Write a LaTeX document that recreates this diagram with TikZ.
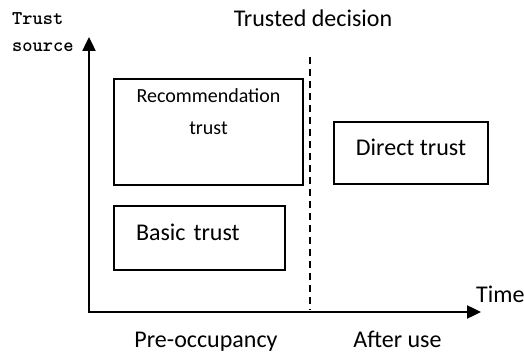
\documentclass[tikz,border=0pt]{standalone}
\usepackage{fontspec}
\setmainfont{Carlito}
\usetikzlibrary{arrows.meta}

\tikzset{
  trustbox/.style = {draw, line width=1.3pt, inner sep=0pt, font=\fontsize{24}{28}\selectfont},
  axis/.style = {line width=2.4pt, {Triangle[length=14pt,width=13pt]}-{Triangle[length=14pt,width=13pt]}},
  lbl/.style = {inner sep=0pt, anchor=base, font=\fontsize{24}{28}\selectfont}
}

\begin{document}
\begin{tikzpicture}[x=1pt, y=-1pt]
\useasboundingbox (0,0) rectangle (524,352);
% axes
\coordinate (ytop) at (89,37);
\coordinate (origin) at (89,312);
\coordinate (xend) at (481,312);
\draw[axis] (ytop) -- (origin) -- (xend);
% decision line
\coordinate (dtop) at (310,57);
\coordinate (dbot) at (310,310);
\draw[line width=1.3pt, dash pattern=on 7pt off 5pt] (dtop) -- (dbot);
% boxes
\node[trustbox, minimum width=189pt, minimum height=106pt, align=center,
      font=\fontsize{20}{32}\selectfont, text depth=41pt] (recommend) at (208.5,132)
      {Recommendation\\trust};
\node[trustbox, minimum width=171pt, minimum height=64pt, text width=127pt,
      inner xsep=22pt, align=left, text height=15.5pt, text depth=9.5pt] (basic) at (199.5,238)
      {Basic trust};
\node[trustbox, minimum width=154pt, minimum height=62pt,
      text height=15.5pt, text depth=9.5pt] (direct) at (411,153)
      {Direct trust};
% labels
\node[lbl] (decision) at (313,27) {Trusted decision};
\node[inner sep=0pt, anchor=base west, align=left, font=\fontsize{19.5}{27}\selectfont\ttfamily\bfseries] (source) at (12,52)
      {Trust\\source};
\node[lbl, anchor=base west] (time) at (476,302) {Time};
\node[lbl] (pre) at (206,347) {Pre-occupancy};
\node[lbl] (after) at (397.5,347) {After use};
\end{tikzpicture}
\end{document}
